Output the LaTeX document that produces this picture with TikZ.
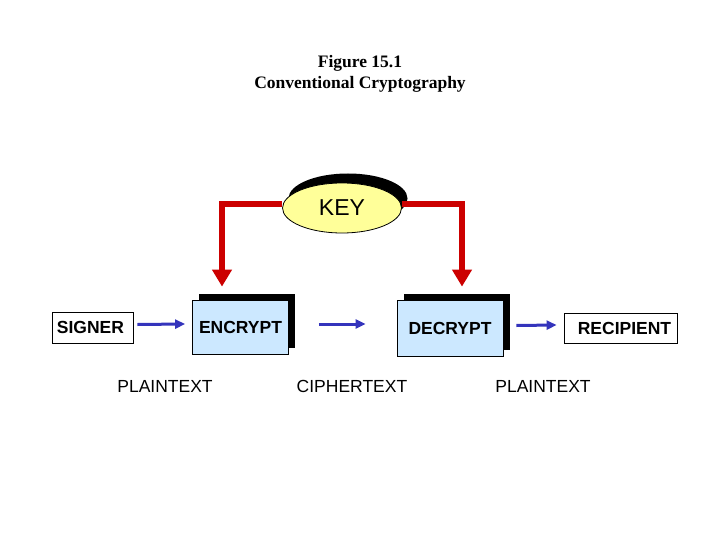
\documentclass[tikz,border=0pt]{standalone}
\usepackage{fontspec}
\setmainfont{Liberation Serif}
\setsansfont{Liberation Sans}
\usetikzlibrary{arrows.meta,shapes.geometric,shadows}
\definecolor{keyred}{HTML}{CC0000}
\definecolor{flowblue}{HTML}{3434BC}
\definecolor{boxblue}{HTML}{CCE8FF}
\definecolor{keyyellow}{HTML}{FFFF99}
\tikzset{
  cryptbox/.style={draw=black, line width=0.8pt, fill=boxblue, minimum width=96pt, minimum height=54pt, inner sep=0pt,
    font=\sffamily\bfseries\fontsize{17.5}{20}\selectfont,
    drop shadow={shadow xshift=6.5pt, shadow yshift=6.5pt, fill=black, opacity=1}},
  endbox/.style={draw=black, line width=0.8pt, fill=white, inner sep=0pt, font=\sffamily\bfseries\fontsize{17.5}{20}\selectfont},
  keynode/.style={ellipse, draw=black, line width=0.8pt, fill=keyyellow, minimum width=119pt, minimum height=50pt, inner sep=0pt,
    font=\sffamily\fontsize{23}{26}\selectfont,
    drop shadow={shadow xshift=6pt, shadow yshift=9.5pt, fill=black, opacity=1}},
  label/.style={font=\sffamily\fontsize{17.5}{20}\selectfont, inner sep=0pt},
  redarrow/.style={draw=keyred, line width=6pt, -{Triangle[length=17pt,width=19pt]}},
  bluearrow/.style={draw=flowblue, line width=3pt, -{Triangle[length=10pt,width=9pt]}},
}
\begin{document}
\begin{tikzpicture}[x=1pt,y=-1pt]
\useasboundingbox (0,0) rectangle (720,540);
\node[font=\bfseries\fontsize{17.5}{21}\selectfont, align=center, inner sep=0pt] (title) at (360,74) {Figure 15.1\\Conventional Cryptography};

\node[keynode] (key) at (342,208) {KEY};
\node[cryptbox] (enc) at (240.5,327) {ENCRYPT};
\node[cryptbox, minimum width=106pt, minimum height=56pt] (dec) at (450,328.5) {DECRYPT};
\node[endbox, minimum width=81pt, minimum height=31pt] (sig) at (92.5,327.5) {SIGNER\hspace*{4pt}};
\node[endbox, minimum width=113pt, minimum height=30pt] (rec) at (620.5,328) {\hspace*{8pt}RECIPIENT};

\node[label] (pt1) at (165,386) {PLAINTEXT};
\node[label] (ct) at (352,386) {CIPHERTEXT};
\node[label] (pt2) at (543,386) {PLAINTEXT};

\draw[redarrow] ([yshift=4pt]key.west) -| ([xshift=-18.5pt,yshift=13pt]enc.north);
\draw[redarrow] ([yshift=4pt]key.east) -| ([xshift=12pt,yshift=13.5pt]dec.north);

\draw[bluearrow] ([xshift=4pt,yshift=3pt]sig.east) -- ([xshift=-7pt,yshift=3pt]enc.west);
\draw[bluearrow] ([xshift=30pt,yshift=3pt]enc.east) -- ([xshift=-31pt,yshift=4.5pt]dec.west);
\draw[bluearrow] ([xshift=13pt,yshift=3pt]dec.east) -- ([xshift=-7pt,yshift=3pt]rec.west);
\end{tikzpicture}
\end{document}
